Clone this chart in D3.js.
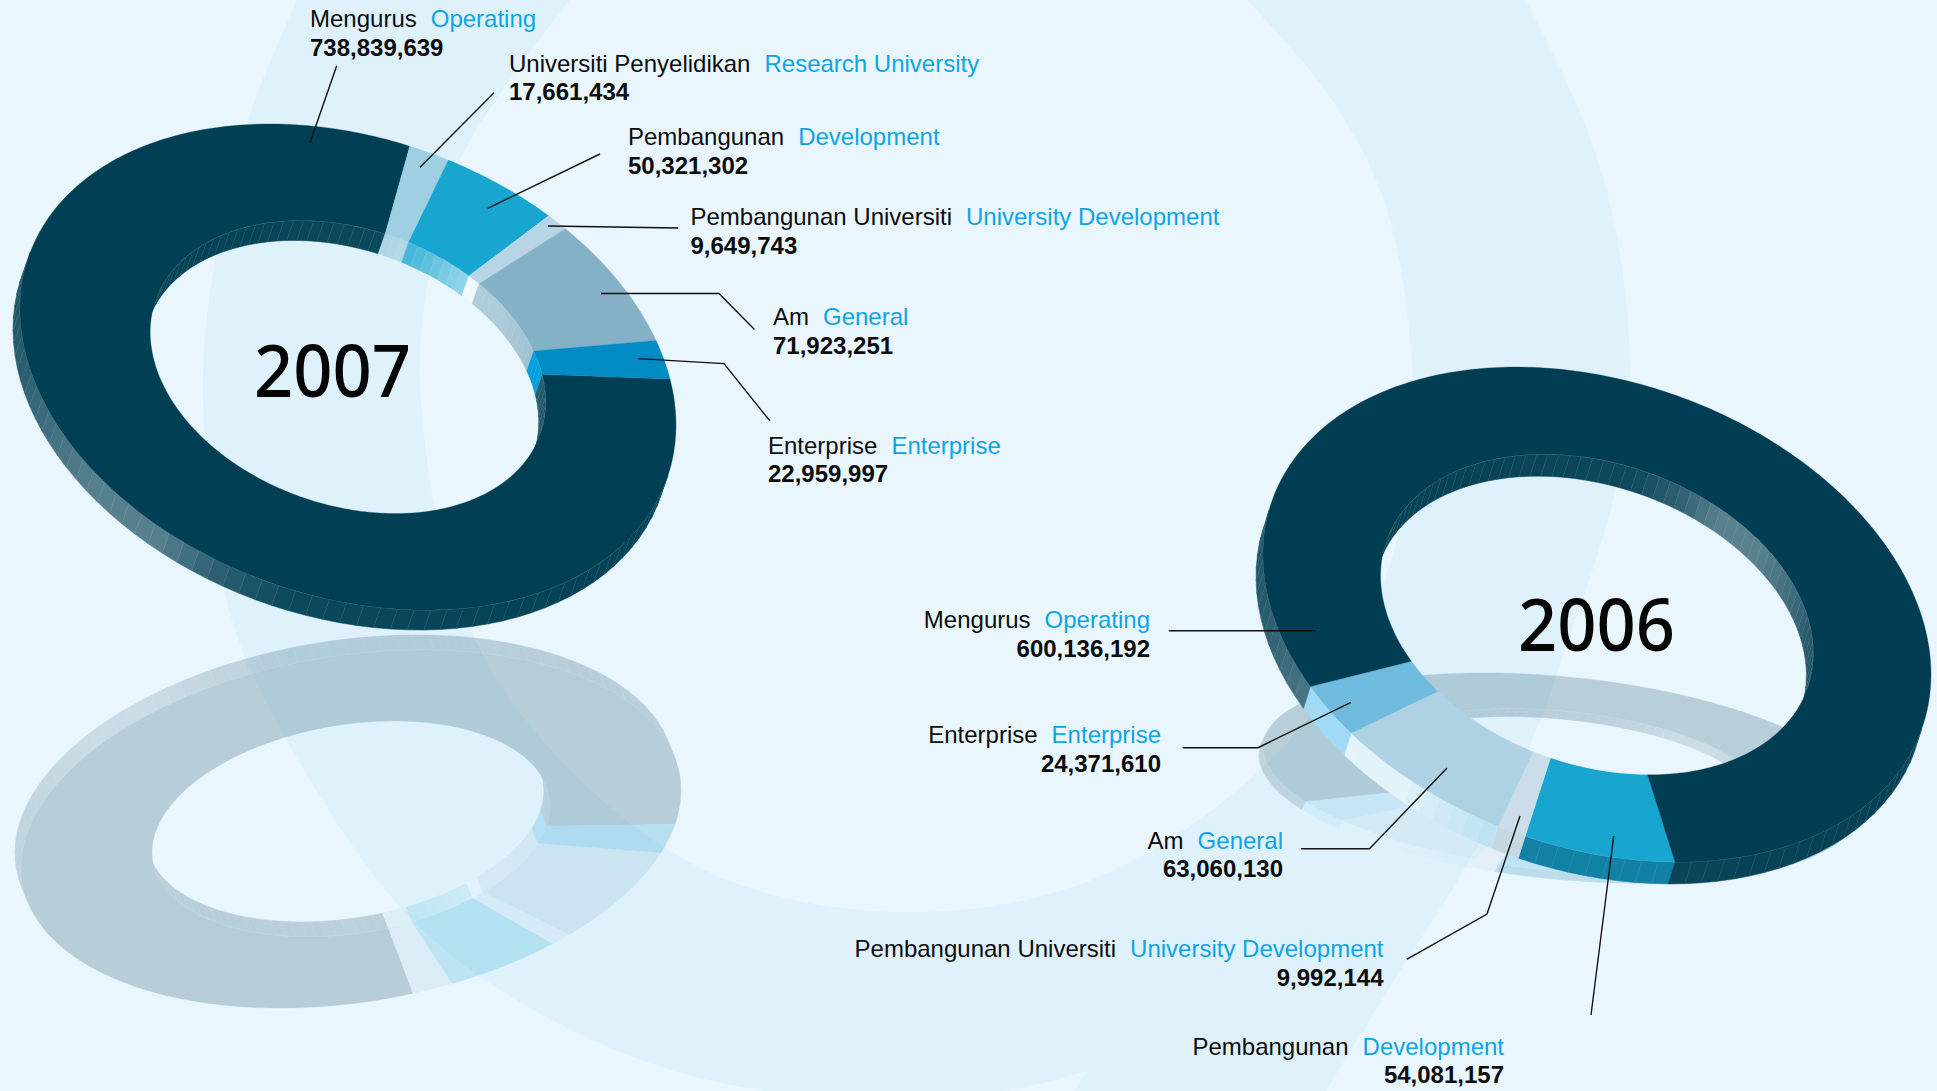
<!DOCTYPE html>
<html>
<head>
<meta charset="utf-8">
<script src="https://cdn.jsdelivr.net/npm/d3@7/dist/d3.min.js"></script>
<style>
html,body{margin:0;padding:0;background:#eaf6fd;overflow:hidden}
svg{display:block}
text{font-family:"Liberation Sans",Arial,sans-serif}
</style>
</head>
<body>
<svg id="c" width="1937" height="1091"></svg>
<script>
// ---- data ----
const namesMs2007 = ["Mengurus","Universiti Penyelidikan","Pembangunan","Pembangunan Universiti","Am","Enterprise"];
const namesEn2007 = ["Operating","Research University","Development","University Development","General","Enterprise"];
const values2007  = [738839639,17661434,50321302,9649743,71923251,22959997];

const namesMs2006 = ["Pembangunan","Pembangunan Universiti","Am","Enterprise","Mengurus"];
const namesEn2006 = ["Development","University Development","General","Enterprise","Operating"];
const values2006  = [54081157,9992144,63060130,24371610,600136192];

// ---- styling ----
const faces2007 = ["#003f54","#a0cee2","#18a5cf","#b8d5e6","#85b1c6","#008bc5"];
const walls2007 = ["#003f54","#a8d2e4","#18a5cf","#e6f4fb","#85b1c6","#009fdc"];
const gains2007 = [1,1.2,1.5,1,1,0];
const faces2006 = ["#18a5cf","#cbdde8","#aed2e4","#6ebbdd","#023e53"];
const walls2006 = ["#0e7fa3","#c6d8e2","#a8d8ee","#97d6f4","#023e53"];
const gains2006 = [0.3,0,2,0.3,1];

const svg = d3.select("#c");
const W = 1937, H = 1091;

// ---- background swoosh ----
const bandOuterLeft = [[297,0],[247,123],[215,260],[203,398],[232,620],[310,780],[400,907],[478,975],[592,1040],[700,1078],[800,1095],[917,1097],[1012,1090],[1087,1071]];
const bandOuterRight = [[1074,1091],[1326,1091],[1407,960],[1458,880],[1529,747],[1565,650],[1616,488],[1630,367],[1613,217],[1582,117],[1526,0]];
const bandInner = [[1247,0],[1332,100],[1386,207],[1412,367],[1407,500],[1353,650],[1260,770],[1092,880],[905,912],[720,877],[570,770],[466,620],[421,400],[428,280],[460,160],[570,0]];
const smooth = d3.line().curve(d3.curveCatmullRom.alpha(0.5));
function bandPath(){
  const a = smooth(bandOuterLeft);
  const b = "L1074,1091L1326,1091" + smooth(bandOuterRight.slice(1)).replace(/^M/,"L");
  const c = smooth(bandInner).replace(/^M/,"L");
  return a + b + c + "Z";
}
svg.append("rect").attr("width",W).attr("height",H).attr("fill","#eaf6fd");
svg.append("path").attr("d",bandPath()).attr("fill","#dff2fc");

// ---- ring renderer ----
const rad = d => d*Math.PI/180, deg = r => r*180/Math.PI;
const lightScale = d3.scaleLinear()
  .domain([0,60,100,112,125,140,170,210,360])
  .range([0.01,0.02,0.05,0.16,0.34,0.34,0.15,0.06,0.01]);
const lineGen = d3.line();
const closedGen = d3.line().curve(d3.curveLinearClosed);

function drawRing(parent, values, faces, walls, gains, startT, geo, opacity){
  const g = parent.append("g").attr("opacity",opacity);
  const [cx,cy,a,b,c,d,dx,dy,INNER] = geo;
  const P = (t,r,sh=0) => [cx+r*(a*Math.cos(rad(t))+b*Math.sin(rad(t)))+sh*dx,
                           cy+r*(c*Math.cos(rad(t))+d*Math.sin(rad(t)))+sh*dy];
  const det = a*d-b*c;
  const su = (d*dx-b*dy)/det, sv = (a*dy-c*dx)/det;
  const facing = t => Math.cos(rad(t))*su+Math.sin(rad(t))*sv;
  const arcs = d3.pie().sort(null).value(v=>v)
    .startAngle(rad(startT+90)).endAngle(rad(startT+450))(values);
  const segs = arcs.map((s,i)=>({t0:deg(s.startAngle)-90,t1:deg(s.endAngle)-90,i}));
  const STEP = 3;
  const facetsFor = (t0,t1) => {
    const out=[]; const n=Math.max(1,Math.ceil((t1-t0)/STEP));
    for(let k=0;k<n;k++) out.push([t0+(t1-t0)*k/n,t0+(t1-t0)*(k+1)/n]);
    return out;
  };
  const wallG = g.append("g"), edgeG = g.append("g");
  [["outer",1,1,0],["inner",INNER,-1,180]].forEach(([kind,r,sgn,nAdd])=>{
    segs.forEach(s=>{
      facetsFor(s.t0,s.t1).forEach(([f0,f1])=>{
        const m=(f0+f1)/2;
        if(sgn*facing(m)<=0) return;
        const n=((m+nAdd)%360+360)%360;
        const f=Math.min(0.85,lightScale(n)*gains[s.i]);
        const col=d3.interpolateRgb(walls[s.i],"#ffffff")(f);
        wallG.append("path")
          .attr("d",closedGen([P(f0,r),P(f1,r),P(f1,r,1),P(f0,r,1)]))
          .attr("fill",col).attr("stroke",col).attr("stroke-width",0.5);
        edgeG.append("path")
          .attr("d",lineGen([P(f0,r),P(f0,r,1)]))
          .attr("stroke","#fff").attr("stroke-opacity",0.07).attr("stroke-width",0.7).attr("fill","none");
        edgeG.append("path")
          .attr("d",lineGen([P(f0,r),P(f1,r)]))
          .attr("stroke","#fff").attr("stroke-opacity",0.3).attr("stroke-width",0.7).attr("fill","none");
      });
    });
  });
  const faceG = g.append("g");
  segs.forEach(s=>{
    const pts=[], n=Math.max(2,Math.ceil(s.t1-s.t0));
    for(let k=0;k<=n;k++) pts.push(P(s.t0+(s.t1-s.t0)*k/n,1));
    for(let k=n;k>=0;k--) pts.push(P(s.t0+(s.t1-s.t0)*k/n,INNER));
    faceG.append("path").attr("d",closedGen(pts))
      .attr("fill",faces[s.i]).attr("stroke",faces[s.i]).attr("stroke-width",0.3);
  });
}

// geometry: centre, affine of unit circle, extrusion, inner radius
const geo2007  = [348,367,328,0,58,236,-7,20,0.603];
const geo2007R = [351,829,330,0,-38.7,-174.8,-6,-15,0.603];
const geo2006  = [1597,614.5,334,0,59.9,240.1,-7,22,0.648];
const geo2006R = [1563,774,300,0,26.7,97.5,-4,8,0.648];
const start2007 = -371, start2006 = 76.5;

drawRing(svg,values2007,faces2007,walls2007,gains2007,start2007,geo2007R,0.21);
drawRing(svg,values2006,faces2006,walls2006,gains2006,start2006,geo2006R,0.21);
drawRing(svg,values2007,faces2007,walls2007,gains2007,start2007,geo2007,1);
drawRing(svg,values2006,faces2006,walls2006,gains2006,start2006,geo2006,1);

// ---- years ----
const years = ["2007","2006"];
const yearPos = [[254,397],[1518,651]];
svg.selectAll("text.yr").data(years).join("text").attr("class","yr")
  .attr("x",(d,i)=>yearPos[i][0]).attr("y",(d,i)=>yearPos[i][1])
  .attr("textLength",157).attr("lengthAdjust","spacingAndGlyphs")
  .style("font-family","'Noto Sans'").style("font-weight",500)
  .style("font-size","73px").attr("fill","#050505").text(d=>d);

// ---- leader lines ----
const leaders = [
  [[336.7,65.7],[310,142.7]],
  [[494,92.7],[420,167.3]],
  [[600,154],[487.7,208.3]],
  [[678,228],[548,226]],
  [[601,293.5],[719,293.5],[754.5,329.6]],
  [[638,358.6],[724,363.6],[770,421]],
  [[1169,630.7],[1315.7,630.7]],
  [[1182.7,747.7],[1258,747.7],[1351,702.3]],
  [[1301,848.7],[1369.5,848.7],[1447,768]],
  [[1406.7,959.3],[1487,914],[1520,816]],
  [[1591,1015],[1613.7,836]]
];
svg.selectAll("path.ld").data(leaders).join("path").attr("class","ld")
  .attr("d",lineGen).attr("fill","none").attr("stroke","#111").attr("stroke-width",1.4);

// ---- labels ----
const fmt = d3.format(",");
const labelPos2007 = [[310,27,56],[509,72,100],[628,145,174],[690.5,225,254],[773,325,354],[768,454,482]];
const labelPos2006 = [[1504,1055,1083],[1383.5,957,986],[1283,849,877],[1161,743,772],[1150,628,657]];
function labels(ms,en,vals,pos,anchor){
  const g = svg.append("g").style("font-size","24px").attr("text-anchor",anchor);
  ms.forEach((m,i)=>{
    const [x,y1,y2]=pos[i];
    const t=g.append("text").attr("x",x).attr("y",y1).attr("fill","#0c0c0c");
    t.append("tspan").text(m);
    t.append("tspan").attr("dx",14).attr("fill","#0ea5e4").text(en[i]);
    g.append("text").attr("x",x).attr("y",y2).attr("fill","#0c0c0c")
      .style("font-weight",700).text(fmt(vals[i]));
  });
}
labels(namesMs2007,namesEn2007,values2007,labelPos2007,"start");
labels(namesMs2006,namesEn2006,values2006,labelPos2006,"end");
</script>
</body>
</html>
